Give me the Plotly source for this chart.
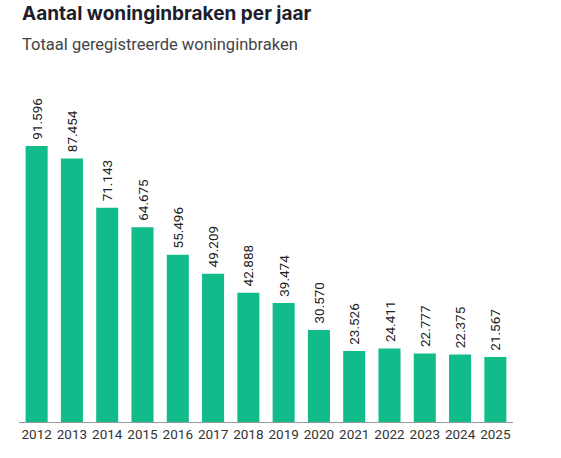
import plotly.graph_objects as go

years = ["2012", "2013", "2014", "2015", "2016", "2017", "2018",
         "2019", "2020", "2021", "2022", "2023", "2024", "2025"]
inbraken = [91596, 87454, 71143, 64675, 55496, 49209, 42888,
            39474, 30570, 23526, 24411, 22777, 22375, 21567]

# Dutch thousands separator, small nbsp to push label off the bar a bit
labels = ["\u00a0" + f"{v:,}".replace(",", ".") for v in inbraken]

fig = go.Figure(go.Bar(
    x=years,
    y=inbraken,
    text=labels,
    textposition="outside",
    textangle=-90,
    constraintext="none",
    textfont=dict(family="Roboto", size=13.5, color="#222222"),
    marker=dict(color="#12BC8A", line=dict(width=0)),
    cliponaxis=False,
    hoverinfo="skip",
))

fig.update_layout(
    width=561,
    height=458,
    margin=dict(l=19, r=48, t=90, b=36),
    paper_bgcolor="white",
    plot_bgcolor="white",
    bargap=0.375,
    showlegend=False,
    xaxis=dict(
        showline=True, linecolor="#9a9a9a", linewidth=1,
        ticks="", showgrid=False, automargin=False,
        tickfont=dict(family="Roboto", size=13.5, color="#333333"),
    ),
    yaxis=dict(visible=False, range=[0, 110200], showgrid=False),
    annotations=[
        dict(text="<b>Aantal woninginbraken per jaar</b>", x=0, y=1,
             xref="paper", yref="paper", xanchor="left", yanchor="top",
             xshift=1, yshift=90, showarrow=False,
             font=dict(family="Inter", size=19, color="#1d1d2b")),
        dict(text="Totaal geregistreerde woninginbraken", x=0, y=1,
             xref="paper", yref="paper", xanchor="left", yanchor="top",
             xshift=1, yshift=57, showarrow=False,
             font=dict(family="Roboto", size=16.5, color="#444444")),
    ],
)

fig.write_html("out.html", config={"displayModeBar": False},
               post_script="document.body.style.margin='0';")
